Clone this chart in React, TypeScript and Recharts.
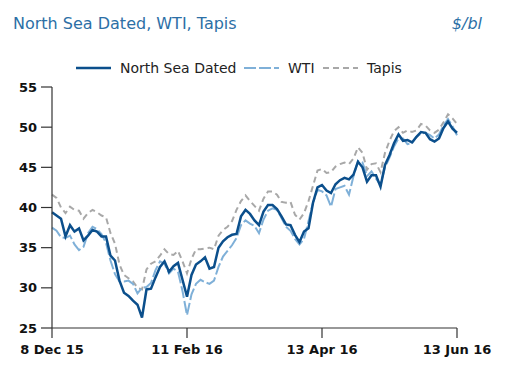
import React from 'react';
import { LineChart, Line, XAxis, YAxis } from 'recharts';

const tickIndex = [0, 30, 60, 90];
const tickLabels = ['8 Dec 15', '11 Feb 16', '13 Apr 16', '13 Jun 16'];
const yTicks = [25, 30, 35, 40, 45, 50, 55];

const northSeaDated = [
  39.4, 39.0, 38.6, 36.4, 37.8, 37.0, 37.4, 35.9, 36.5, 37.2,
  37.0, 36.4, 36.4, 34.0, 33.4, 30.9, 29.4, 29.0, 28.4, 27.9,
  26.3, 29.8, 29.9, 31.3, 32.6, 33.3, 32.0, 32.7, 33.1, 31.0,
  28.9, 31.6, 32.9, 33.3, 33.8, 32.4, 32.6, 35.0, 35.8, 36.3,
  36.6, 36.7, 38.9, 39.7, 39.2, 38.4, 37.8, 39.5, 40.3, 40.3,
  39.8, 38.9, 37.9, 37.8, 36.6, 35.7, 37.0, 37.4, 40.6, 42.5,
  42.8, 42.1, 41.8, 42.9, 43.4, 43.7, 43.5, 44.1, 45.7, 45.0,
  43.2, 44.0, 44.0, 42.6, 45.3, 46.5, 48.0, 49.1, 48.3, 48.4,
  48.1, 48.8, 49.4, 49.3, 48.5, 48.2, 48.6, 49.9, 50.7, 49.8,
  49.3,
];

const wti = [
  37.5, 37.1, 36.3, 36.2, 36.5, 35.4, 34.7, 35.1, 36.8, 37.6,
  37.3, 36.7, 35.6, 33.4, 31.7, 30.8, 30.8, 30.9, 30.5, 29.3,
  30.0, 30.1, 30.6, 32.2, 33.3, 33.0, 31.8, 32.4, 32.0, 29.6,
  26.6, 29.2, 30.5, 31.0, 30.7, 30.5, 30.9, 32.6, 33.9, 34.6,
  35.3, 36.2, 37.8, 38.4, 38.0, 37.7, 36.8, 38.5, 39.6, 39.9,
  39.7, 38.7, 37.6, 37.1, 36.1, 35.4, 36.1, 38.3, 40.6, 42.2,
  42.0, 41.5, 40.1, 42.3, 42.5, 42.7, 41.6, 43.9, 45.8, 45.6,
  43.9, 44.5, 43.6, 42.8, 45.0, 46.2, 47.6, 48.6, 48.6, 47.9,
  48.0, 48.8, 49.2, 49.3, 49.0, 48.6, 49.1, 50.2, 51.0, 50.1,
  49.0,
];

const tapis = [
  41.6, 41.2, 40.0, 39.3, 40.1, 39.7, 39.6, 38.6, 39.3, 39.7,
  39.4, 39.0, 38.8, 36.8, 35.5, 32.9, 31.6, 31.2, 30.8, 30.0,
  29.8, 32.3, 33.0, 33.3, 34.0, 34.8, 34.2, 34.1, 34.6, 33.3,
  31.8, 33.6, 34.8, 34.8, 34.9, 35.0, 34.8, 36.5, 37.2, 37.6,
  38.3, 39.7, 40.8, 41.5, 40.8, 40.2, 39.6, 41.1, 42.0, 42.0,
  41.6, 40.7, 40.6, 40.7, 39.1, 38.5, 39.3, 40.8, 42.7, 44.6,
  44.8, 44.3, 44.4, 45.1, 45.4, 45.6, 45.4, 46.1, 47.5, 46.8,
  44.7, 45.4, 45.5, 44.4, 46.8, 48.3, 49.5, 50.0, 49.3, 49.6,
  49.4, 49.6, 50.4, 50.2, 49.6, 49.3, 49.7, 50.6, 51.6, 51.1,
  50.4,
];

const data = northSeaDated.map((v, i) => ({
  i,
  nsd: v,
  wti: wti[i],
  tapis: tapis[i],
}));

const C_NSD = '#0b4f8c';
const C_WTI = '#7fb0d8';
const C_TAPIS = '#a8a8a8';
const C_TITLE = '#2c6fa6';
const FONT = '"DejaVu Sans", Verdana, sans-serif';

const legendItems = [
  { label: 'North Sea Dated', color: C_NSD, dash: undefined as string | undefined, x: 76, w: 2.5 },
  { label: 'WTI', color: C_WTI, dash: '12 3', x: 244, w: 2 },
  { label: 'Tapis', color: C_TAPIS, dash: '6 4', x: 323, w: 2 },
];

export default function App() {
  const tickFmt = (v: number) => {
    const k = tickIndex.indexOf(v);
    return k >= 0 ? tickLabels[k] : '';
  };
  return (
    <div style={{ position: 'absolute', left: 0, top: 0, width: 515, height: 372, background: '#fff', fontFamily: FONT }}>
      <svg width={515} height={90} style={{ position: 'absolute', left: 0, top: 0 }}>
        <text x={13} y={29} fontFamily={FONT} fontSize={16} fill={C_TITLE}>
          North Sea Dated, WTI, Tapis
        </text>
        <text x={482} y={29} fontFamily={FONT} fontSize={16} fontStyle="italic" fill={C_TITLE} textAnchor="end">
          $/bl
        </text>
        {legendItems.map((it) => (
          <g key={it.label}>
            <line x1={it.x} x2={it.x + 35} y1={68} y2={68} stroke={it.color} strokeWidth={it.w} strokeDasharray={it.dash} />
            <text x={it.x + 44} y={73} fontFamily={FONT} fontSize={14} fill="#222">
              {it.label}
            </text>
          </g>
        ))}
      </svg>
      <div style={{ position: 'absolute', left: 0, top: 0 }}>
        <LineChart width={515} height={372} data={data} margin={{ top: 87, right: 58, bottom: 14, left: 12 }}>
          <XAxis
            dataKey="i"
            type="number"
            domain={[0, 90]}
            ticks={tickIndex}
            tickFormatter={tickFmt}
            height={30}
            tickSize={10}
            tickMargin={7}
            axisLine={{ stroke: '#333', strokeWidth: 1.2 }}
            tickLine={{ stroke: '#333', strokeWidth: 1.2 }}
            tick={{ fill: '#111', fontSize: 13, fontWeight: 'bold', fontFamily: FONT }}
            interval={0}
          />
          <YAxis
            domain={[25, 55]}
            ticks={yTicks}
            width={40}
            tickSize={11}
            tickMargin={4}
            axisLine={{ stroke: '#333', strokeWidth: 1.2 }}
            tickLine={{ stroke: '#333', strokeWidth: 1.2 }}
            tick={{ fill: '#111', fontSize: 13, fontWeight: 'bold', fontFamily: FONT }}
            interval={0}
          />
          <Line type="linear" dataKey="tapis" stroke={C_TAPIS} strokeWidth={2} strokeDasharray="6 4" dot={false} isAnimationActive={false} />
          <Line type="linear" dataKey="wti" stroke={C_WTI} strokeWidth={2} strokeDasharray="12 3" dot={false} isAnimationActive={false} />
          <Line type="linear" dataKey="nsd" stroke={C_NSD} strokeWidth={2.5} dot={false} isAnimationActive={false} />
        </LineChart>
      </div>
    </div>
  );
}
